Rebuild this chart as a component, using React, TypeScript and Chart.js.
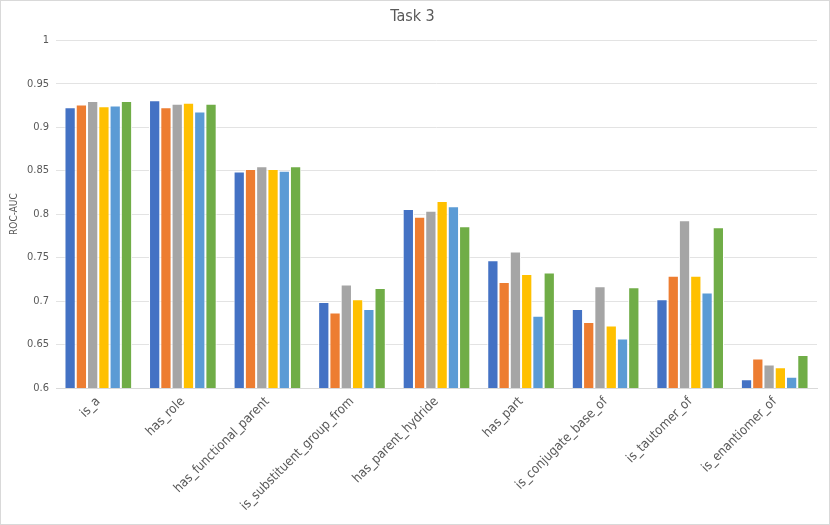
import React, { useEffect, useRef } from "react";
import { Chart, registerables } from "chart.js";

Chart.register(...registerables);

const categories = [
  "is_a",
  "has_role",
  "has_functional_parent",
  "is_substituent_group_from",
  "has_parent_hydride",
  "has_part",
  "is_conjugate_base_of",
  "is_tautomer_of",
  "is_enantiomer_of",
];

const series1 = [0.923, 0.931, 0.849, 0.699, 0.806, 0.747, 0.691, 0.702, 0.61];
const series2 = [0.926, 0.923, 0.852, 0.687, 0.797, 0.722, 0.676, 0.729, 0.634];
const series3 = [0.93, 0.927, 0.855, 0.719, 0.804, 0.757, 0.717, 0.793, 0.627];
const series4 = [0.924, 0.928, 0.852, 0.702, 0.815, 0.731, 0.672, 0.729, 0.624];
const series5 = [0.925, 0.918, 0.85, 0.691, 0.809, 0.683, 0.657, 0.71, 0.613];
const series6 = [0.93, 0.927, 0.855, 0.715, 0.786, 0.733, 0.716, 0.785, 0.638];

const seriesList = [series1, series2, series3, series4, series5, series6];
const seriesNames = ["Series 1", "Series 2", "Series 3", "Series 4", "Series 5", "Series 6"];
const colors = ["#4472C4", "#ED7D31", "#A5A5A5", "#FFC000", "#5B9BD5", "#70AD47"];

const FONT = "'Liberation Sans Narrow', 'DejaVu Sans Condensed', 'Liberation Sans', sans-serif";

export default function App() {
  const ref = useRef<HTMLCanvasElement | null>(null);

  useEffect(() => {
    if (!ref.current) return;
    const chart = new Chart(ref.current, {
      type: "bar",
      data: {
        labels: categories,
        datasets: seriesList.map((d, i) => ({
          label: seriesNames[i],
          data: d,
          backgroundColor: colors[i],
          borderColor: "#ffffff",
          borderWidth: 1,
          borderSkipped: "bottom" as const,
          categoryPercentage: 0.8,
          barPercentage: 1.0,
        })),
      },
      options: {
        animation: false,
        responsive: false,
        maintainAspectRatio: false,
        layout: { padding: { left: 7, right: 12, top: 6, bottom: 4 } },
        plugins: {
          legend: { display: false },
          tooltip: { enabled: false },
          title: {
            display: true,
            text: "Task 3",
            color: "#595959",
            font: { family: FONT, size: 16, weight: "normal" as const },
            padding: { top: 0, bottom: 14 },
          },
        },
        scales: {
          x: {
            grid: { display: false, drawTicks: false },
            border: { display: true, color: "#d9d9d9" },
            ticks: {
              color: "#595959",
              font: { family: FONT, size: 13 },
              minRotation: 45,
              maxRotation: 45,
              padding: 6,
            },
          },
          y: {
            min: 0.6,
            max: 1,
            grid: { color: "#e3e3e3", drawTicks: false, lineWidth: 1 },
            border: { display: false },
            ticks: {
              stepSize: 0.05,
              color: "#595959",
              font: { family: FONT, size: 11 },
              padding: 7,
              callback: (v: any) => String(Math.round(Number(v) * 100) / 100),
            },
            title: {
              display: true,
              text: "ROC-AUC",
              color: "#595959",
              font: { family: FONT, size: 10 },
              padding: 0,
            },
          },
        },
      },
    });
    return () => chart.destroy();
  }, []);

  return (
    <div
      style={{
        position: "fixed",
        left: 0,
        top: 0,
        width: 830,
        height: 525,
        boxSizing: "border-box",
        border: "1px solid #d9d9d9",
        background: "#fff",
      }}
    >
      <canvas ref={ref} width={828} height={523} style={{ display: "block" }} />
    </div>
  );
}
